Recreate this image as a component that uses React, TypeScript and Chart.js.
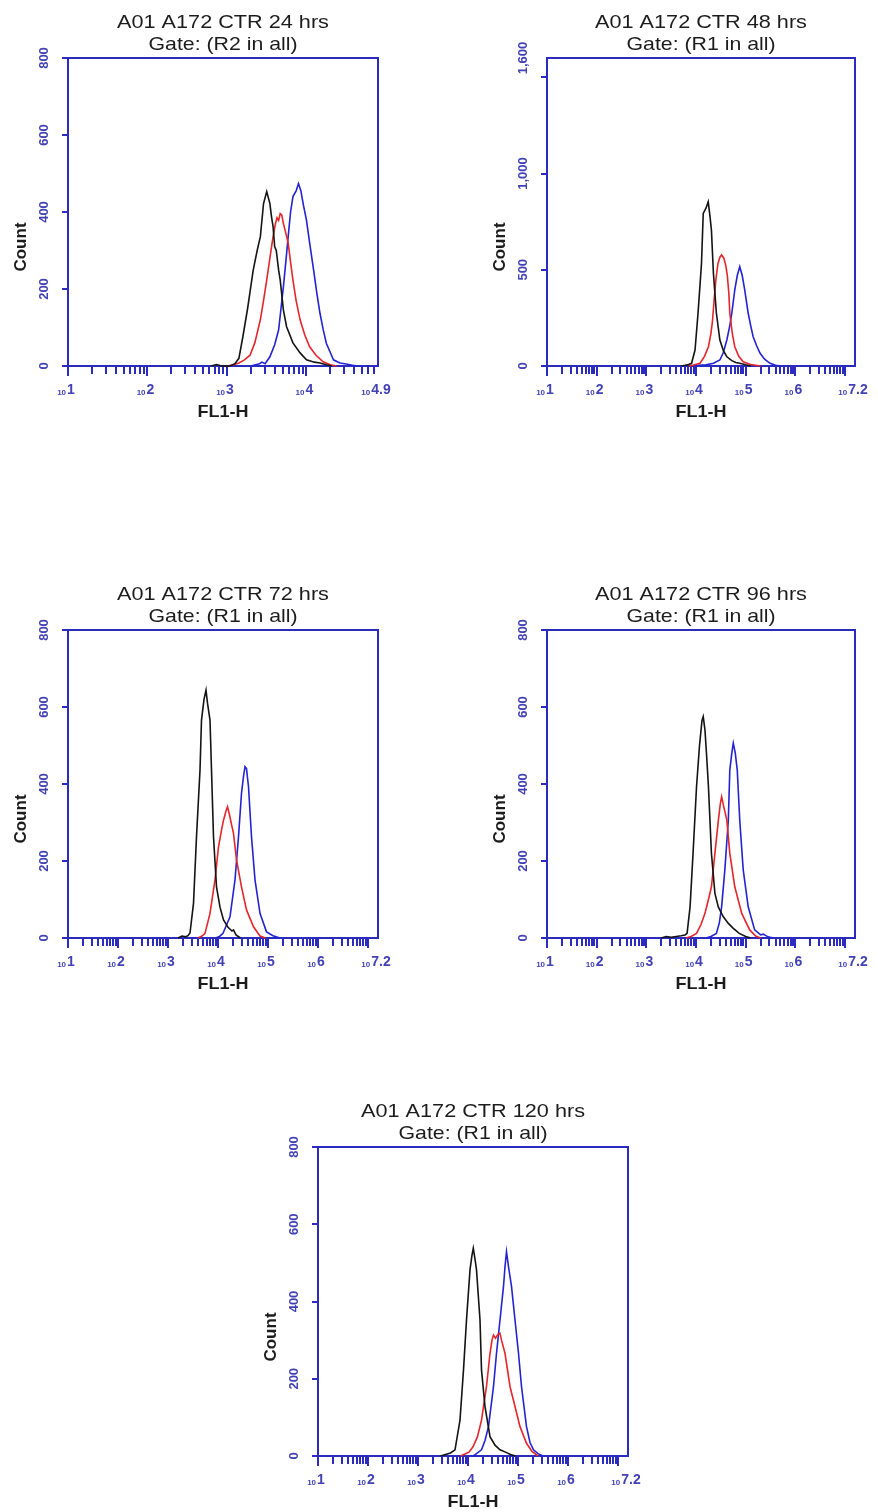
import React, { useEffect, useRef } from "react";
import { Chart, registerables } from "chart.js";

Chart.register(...registerables);

const FONT = '"Liberation Sans", Arial, sans-serif';
const AXIS_BLUE = "#2b2bc0";
const LABEL_BLUE = "#4242b4";
const TEXT_DARK = "#1c1c1c";
const C_BLACK = "#141414";
const C_RED = "#e3262c";
const C_BLUE = "#2323d2";

// ---- data: [log10(FL1-H), count] ----
const black24 = [[2.80,0],[2.87,4],[2.93,0],[3.04,0],[3.10,6],[3.15,20],[3.20,76],[3.26,150],[3.33,249],[3.38,300],[3.42,336],[3.46,422],[3.50,453],[3.54,422],[3.56,388],[3.58,362],[3.60,310],[3.62,300],[3.65,249],[3.67,223],[3.71,145],[3.75,102],[3.83,60],[3.92,34],[4.00,16],[4.10,10],[4.17,8],[4.25,3],[4.32,0]];
const red24 = [[3.00,0],[3.08,3],[3.15,8],[3.22,16],[3.29,28],[3.35,60],[3.42,120],[3.46,170],[3.50,223],[3.54,280],[3.58,336],[3.61,370],[3.63,385],[3.65,378],[3.67,396],[3.69,392],[3.71,370],[3.74,345],[3.77,319],[3.80,270],[3.83,223],[3.87,170],[3.92,120],[3.98,80],[4.04,50],[4.12,28],[4.21,11],[4.30,3],[4.38,0]];
const blue24 = [[3.30,0],[3.41,6],[3.44,10],[3.48,6],[3.54,24],[3.60,55],[3.65,94],[3.68,150],[3.71,206],[3.74,270],[3.77,336],[3.80,400],[3.83,440],[3.87,455],[3.90,474],[3.93,455],[3.96,420],[4.00,379],[4.04,320],[4.09,249],[4.13,190],[4.17,137],[4.21,95],[4.25,59],[4.30,35],[4.34,16],[4.42,8],[4.50,5],[4.58,2],[4.65,0]];

const black48 = [[3.70,0],[3.78,4],[3.85,8],[3.91,14],[3.98,83],[4.04,274],[4.08,420],[4.11,533],[4.145,793],[4.20,820],[4.245,853],[4.28,780],[4.31,706],[4.35,481],[4.41,274],[4.48,135],[4.55,80],[4.62,48],[4.72,28],[4.80,18],[4.88,14],[5.00,6],[5.10,0]];
const red48 = [[3.85,0],[3.95,5],[4.08,14],[4.17,50],[4.25,100],[4.30,170],[4.33,230],[4.36,330],[4.40,450],[4.44,530],[4.48,565],[4.515,577],[4.56,560],[4.60,520],[4.63,470],[4.66,380],[4.68,274],[4.73,170],[4.78,100],[4.86,50],[4.95,22],[5.10,8],[5.30,0]];
const blue48 = [[3.95,0],[4.05,4],[4.20,6],[4.35,14],[4.48,31],[4.55,70],[4.62,135],[4.68,210],[4.72,274],[4.78,395],[4.83,470],[4.88,516],[4.93,470],[4.98,395],[5.05,274],[5.10,210],[5.15,152],[5.22,105],[5.29,66],[5.38,35],[5.49,14],[5.60,4],[5.70,0]];

const black72 = [[3.20,0],[3.28,5],[3.35,3],[3.40,6],[3.44,13],[3.51,90],[3.57,263],[3.64,436],[3.67,566],[3.72,620],[3.76,644],[3.79,610],[3.84,566],[3.87,436],[3.91,263],[3.97,133],[4.04,80],[4.11,47],[4.20,28],[4.28,18],[4.31,21],[4.36,8],[4.45,0]];
const red72 = [[3.60,0],[3.68,5],[3.74,12],[3.84,64],[3.94,151],[4.01,237],[4.07,280],[4.11,306],[4.16,330],[4.19,341],[4.23,320],[4.27,295],[4.31,272],[4.37,203],[4.47,133],[4.57,73],[4.71,29],[4.84,5],[4.95,0]];
const blue72 = [[3.95,0],[4.03,4],[4.10,12],[4.24,55],[4.34,151],[4.41,263],[4.47,376],[4.51,420],[4.54,445],[4.57,440],[4.61,393],[4.67,263],[4.74,151],[4.84,64],[4.97,16],[5.10,6],[5.24,0]];

const black96 = [[3.30,0],[3.40,4],[3.50,2],[3.60,4],[3.70,6],[3.78,8],[3.82,12],[3.88,81],[3.94,220],[4.01,393],[4.07,500],[4.12,565],[4.145,575],[4.18,540],[4.21,480],[4.25,393],[4.31,220],[4.38,116],[4.45,80],[4.55,55],[4.65,38],[4.75,25],[4.87,12],[5.00,4],[5.10,0]];
const red96 = [[3.80,0],[3.90,4],[4.01,12],[4.10,35],[4.18,64],[4.25,100],[4.31,133],[4.38,220],[4.45,306],[4.49,350],[4.515,367],[4.56,340],[4.62,306],[4.68,220],[4.78,133],[4.92,64],[5.08,21],[5.20,5],[5.30,0]];
const blue96 = [[4.20,0],[4.30,4],[4.41,12],[4.47,40],[4.515,81],[4.58,177],[4.65,306],[4.68,436],[4.72,480],[4.75,506],[4.79,480],[4.83,436],[4.88,306],[4.95,177],[5.05,81],[5.18,21],[5.30,8],[5.35,10],[5.45,3],[5.55,0]];

const black120 = [[3.45,0],[3.55,4],[3.65,8],[3.74,16],[3.84,93],[3.91,223],[3.97,352],[4.04,482],[4.08,520],[4.106,538],[4.14,510],[4.17,482],[4.24,352],[4.27,223],[4.34,128],[4.44,50],[4.54,28],[4.64,16],[4.75,10],[4.85,4],[4.95,0]];
const red120 = [[3.85,0],[3.95,6],[4.02,10],[4.10,24],[4.19,50],[4.27,93],[4.37,180],[4.44,266],[4.48,300],[4.51,313],[4.55,305],[4.60,315],[4.64,318],[4.67,300],[4.74,266],[4.84,180],[4.94,128],[5.04,76],[5.17,33],[5.28,12],[5.40,0]];
const blue120 = [[4.10,0],[4.15,4],[4.27,16],[4.34,40],[4.41,76],[4.51,180],[4.57,266],[4.64,352],[4.71,439],[4.74,490],[4.77,529],[4.81,490],[4.87,439],[4.94,352],[5.01,266],[5.07,180],[5.17,76],[5.24,35],[5.31,16],[5.40,6],[5.50,0]];

// ---- axis ticks / labels ----
const titles = ["A01 A172 CTR 24 hrs", "A01 A172 CTR 48 hrs", "A01 A172 CTR 72 hrs", "A01 A172 CTR 96 hrs", "A01 A172 CTR 120 hrs"];
const gates = ["Gate: (R2 in all)", "Gate: (R1 in all)", "Gate: (R1 in all)", "Gate: (R1 in all)", "Gate: (R1 in all)"];
const yTicks800 = [0, 200, 400, 600, 800];
const yLabels800 = ["0", "200", "400", "600", "800"];
const yTicks1600 = [0, 500, 1000, 1500];
const yLabelVals1600 = [0, 500, 1000, 1600];
const yLabels1600 = ["0", "500", "1,000", "1,600"];
const xExpLabels49 = ["1", "2", "3", "4", "4.9"];
const xExpLabels72 = ["1", "2", "3", "4", "5", "6", "7.2"];

type Panel = {
  rect: { l: number; t: number; r: number; b: number };
  title: string; gate: string;
  xMaxExp: number; yMax: number;
  yTickMarks: number[]; yLabelVals: number[]; yLabels: string[];
  xLabels: string[];
  series: number[][][];
};

const panels: Panel[] = [
  { rect: { l: 68, t: 58, r: 378, b: 366 }, title: titles[0], gate: gates[0], xMaxExp: 4.9, yMax: 800,
    yTickMarks: yTicks800, yLabelVals: yTicks800, yLabels: yLabels800, xLabels: xExpLabels49, series: [black24, red24, blue24] },
  { rect: { l: 547, t: 58, r: 855, b: 366 }, title: titles[1], gate: gates[1], xMaxExp: 7.2, yMax: 1600,
    yTickMarks: yTicks1600, yLabelVals: yLabelVals1600, yLabels: yLabels1600, xLabels: xExpLabels72, series: [black48, red48, blue48] },
  { rect: { l: 68, t: 630, r: 378, b: 938 }, title: titles[2], gate: gates[2], xMaxExp: 7.2, yMax: 800,
    yTickMarks: yTicks800, yLabelVals: yTicks800, yLabels: yLabels800, xLabels: xExpLabels72, series: [black72, red72, blue72] },
  { rect: { l: 547, t: 630, r: 855, b: 938 }, title: titles[3], gate: gates[3], xMaxExp: 7.2, yMax: 800,
    yTickMarks: yTicks800, yLabelVals: yTicks800, yLabels: yLabels800, xLabels: xExpLabels72, series: [black96, red96, blue96] },
  { rect: { l: 318, t: 1147, r: 628, b: 1456 }, title: titles[4], gate: gates[4], xMaxExp: 7.2, yMax: 800,
    yTickMarks: yTicks800, yLabelVals: yTicks800, yLabels: yLabels800, xLabels: xExpLabels72, series: [black120, red120, blue120] },
];

const PAD = { left: 72, top: 62, right: 22, bottom: 56 };
const seriesColors = [C_BLACK, C_RED, C_BLUE];

function makeDecor(p: Panel) {
  return {
    id: "decor",
    beforeDatasetsDraw(chart: any) {
      const { ctx, chartArea: a, scales } = chart;
      ctx.save();
      ctx.strokeStyle = AXIS_BLUE;
      ctx.lineWidth = 2;
      ctx.strokeRect(a.left, a.top, a.right - a.left, a.bottom - a.top);
      ctx.lineWidth = 2;
      ctx.beginPath();
      for (const v of p.yTickMarks) {
        const y = Math.round(scales.y.getPixelForValue(v));
        ctx.moveTo(a.left - 6, y);
        ctx.lineTo(a.left, y);
      }
      for (let e = 1; e <= Math.floor(p.xMaxExp); e++) {
        for (let m = 1; m <= 9; m++) {
          const lv = e + Math.log10(m);
          if (lv > p.xMaxExp + 1e-9) break;
          const x = Math.round(scales.x.getPixelForValue(Math.pow(10, lv)));
          const len = m === 1 ? 10 : 8;
          ctx.moveTo(x, a.bottom);
          ctx.lineTo(x, a.bottom + len);
        }
      }
      ctx.stroke();
      ctx.restore();
    },
    afterDraw(chart: any) {
      const { ctx, chartArea: a, scales } = chart;
      const cx = (a.left + a.right) / 2;
      ctx.save();
      // titles
      ctx.fillStyle = TEXT_DARK;
      ctx.font = `19px ${FONT}`;
      ctx.textAlign = "center";
      ctx.textBaseline = "alphabetic";
      const drawStretched = (txt: string, x: number, y: number, sx: number) => {
        ctx.save();
        ctx.translate(x, y);
        ctx.scale(sx, 1);
        ctx.fillText(txt, 0, 0);
        ctx.restore();
      };
      drawStretched(p.title, cx, a.top - 30, 1.14);
      drawStretched(p.gate, cx, a.top - 8, 1.12);
      // y labels (rotated)
      ctx.fillStyle = LABEL_BLUE;
      ctx.font = `bold 13px ${FONT}`;
      ctx.textBaseline = "middle";
      p.yLabelVals.forEach((v, i) => {
        const y = scales.y.getPixelForValue(v);
        ctx.save();
        ctx.translate(a.left - 24, y);
        ctx.rotate(-Math.PI / 2);
        ctx.fillText(p.yLabels[i], 0, 0);
        ctx.restore();
      });
      // x labels: small "10" + exponent
      ctx.textAlign = "left";
      ctx.textBaseline = "alphabetic";
      for (const ex of p.xLabels) {
        const x = scales.x.getPixelForValue(Math.pow(10, parseFloat(ex)));
        ctx.font = `bold 8px ${FONT}`;
        const w1 = ctx.measureText("10").width;
        ctx.font = `bold 14px ${FONT}`;
        const w2 = ctx.measureText(ex).width;
        const x0 = x - (w1 + w2 + 1) / 2 - 2;
        const yb = a.bottom + 29;
        ctx.font = `bold 8px ${FONT}`;
        ctx.fillText("10", x0, yb);
        ctx.font = `bold 14px ${FONT}`;
        ctx.fillText(ex, x0 + w1 + 1, yb - 1);
      }
      // axis titles
      ctx.fillStyle = TEXT_DARK;
      ctx.font = `bold 17px ${FONT}`;
      ctx.textAlign = "center";
      drawStretched("FL1-H", cx, a.bottom + 51, 1.06);
      ctx.save();
      ctx.translate(a.left - 47, a.bottom - 119);
      ctx.rotate(-Math.PI / 2);
      ctx.textBaseline = "middle";
      ctx.fillText("Count", 0, 0);
      ctx.restore();
      ctx.restore();
    },
  };
}

function PanelChart({ p }: { p: Panel }) {
  const ref = useRef<HTMLCanvasElement | null>(null);
  const w = p.rect.r - p.rect.l + PAD.left + PAD.right;
  const h = p.rect.b - p.rect.t + PAD.top + PAD.bottom;
  useEffect(() => {
    if (!ref.current) return;
    const chart = new Chart(ref.current, {
      type: "line",
      data: {
        datasets: p.series.map((s, i) => ({
          data: s.map(([lx, c]) => ({ x: Math.pow(10, lx), y: c })),
          borderColor: seriesColors[i],
          borderWidth: 1.6,
          pointRadius: 0,
          tension: 0,
          fill: false,
          clip: false as any,
        })),
      },
      options: {
        responsive: false,
        animation: false,
        devicePixelRatio: 1,
        layout: { padding: PAD },
        plugins: { legend: { display: false }, title: { display: false }, tooltip: { enabled: false } },
        scales: {
          x: { type: "logarithmic", display: false, min: 10, max: Math.pow(10, p.xMaxExp) },
          y: { type: "linear", display: false, min: 0, max: p.yMax },
        },
      },
      plugins: [makeDecor(p)],
    } as any);
    return () => chart.destroy();
  }, [p]);
  return (
    <canvas
      ref={ref}
      width={w}
      height={h}
      style={{ position: "absolute", left: p.rect.l - PAD.left, top: p.rect.t - PAD.top, width: w, height: h }}
    />
  );
}

export default function App() {
  useEffect(() => {
    document.body.style.margin = "0";
  }, []);
  return (
    <div style={{ position: "absolute", left: 0, top: 0, width: 878, height: 1512, overflow: "hidden", background: "#fff" }}>
      {panels.map((p, i) => (
        <PanelChart key={i} p={p} />
      ))}
    </div>
  );
}
